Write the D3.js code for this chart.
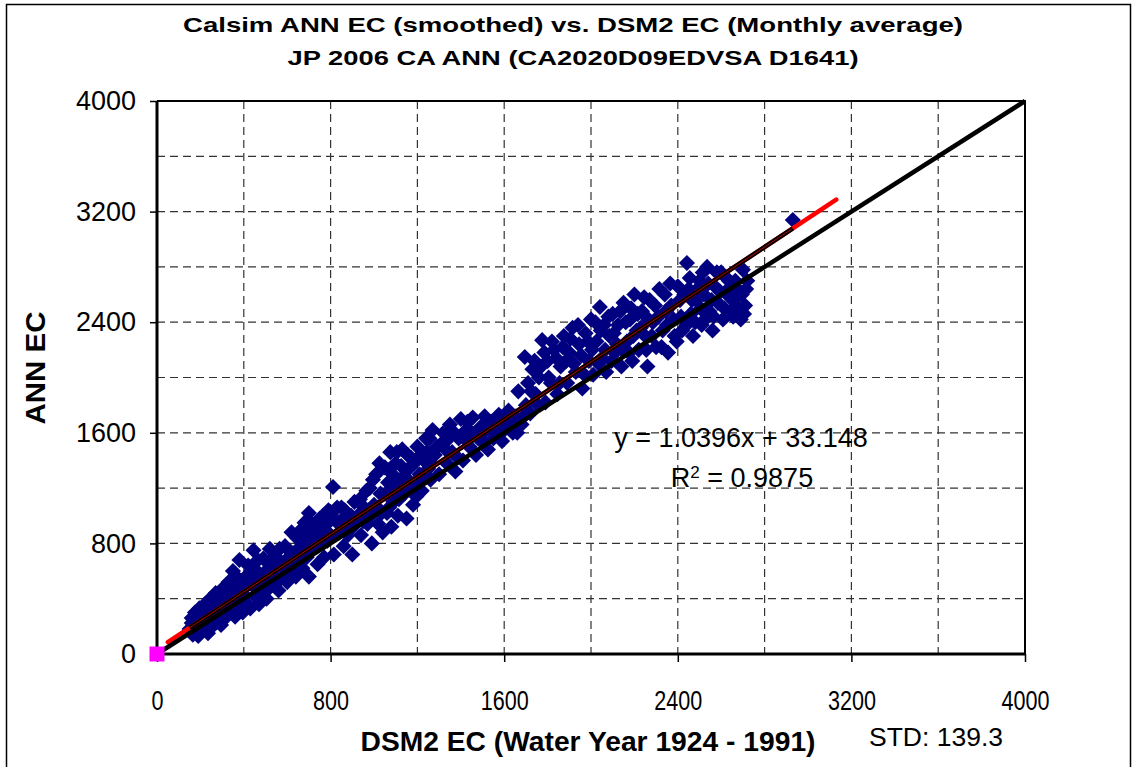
<!DOCTYPE html>
<html>
<head>
<meta charset="utf-8">
<script src="https://cdn.jsdelivr.net/npm/d3@7"></script>
<style>
  body { margin: 0; background: #fff; }
  svg text { font-family: "Liberation Sans", Arial, sans-serif; fill: #000; }
</style>
</head>
<body>
<svg id="chart" width="1132" height="767"></svg>
<script>
// chart values
const titleLines = [
  "Calsim ANN EC (smoothed) vs. DSM2 EC (Monthly average)",
  "JP 2006 CA ANN (CA2020D09EDVSA D1641)"
];
const xTitle = "DSM2 EC (Water Year 1924 - 1991)";
const yTitle = "ANN EC";
const stdLabel = "STD: 139.3";
const axisTicks = [0, 800, 1600, 2400, 3200, 4000];
const gridValues = [400, 800, 1200, 1600, 2000, 2400, 2800, 3200, 3600];

const trendSlope = 1.0396;
const trendIntercept = 33.148;
const trendR2 = 0.9875;
const trendExtent = [50, 3130];
const originPoint = [0, 0];

// [DSM2 EC, ANN EC] monthly pairs (estimated)
const monthlyPoints = [
  [160,224],[150,180],[160,260],[165,140],[175,300],[180,210],[190,130],[195,330],[200,250],[210,180],
  [215,290],[220,360],[225,220],[235,150],[240,310],[245,400],[250,260],[255,200],[265,340],[270,440],
  [275,230],[285,380],[290,300],[295,210],[300,470],[310,350],[315,260],[320,420],[330,520],[335,300],
  [340,380],[350,600],[355,450],[360,270],[370,340],[375,520],[380,680],[390,410],[395,300],[400,470],
  [410,560],[415,360],[420,640],[430,330],[440,500],[445,750],[450,420],[460,600],[470,360],[480,540],
  [490,690],[500,450],[505,400],[515,620],[520,760],[530,500],[540,560],[550,700],[560,460],[575,640],
  [590,780],[600,520],[610,600],[620,880],[630,700],[640,560],[650,760],[660,820],[670,620],[680,950],
  [690,700],[700,560],[700,1020],
  [185,260],[205,320],[230,270],[260,300],[280,330],[305,400],[325,360],[345,480],[365,560],[385,500],
  [405,420],[425,540],[435,600],[455,520],[465,680],[475,450],[495,580],[510,520],[525,680],[545,620],
  [555,520],[565,760],[580,560],[595,680],[615,740],[625,620],[645,840],[655,680],[665,900],[685,780],
  [695,860],
  [710,840],[720,760],[730,900],[740,650],[750,980],[760,820],[770,700],[780,940],[790,1040],[800,860],
  [811,1208],[815,720],[825,960],[840,880],[850,1060],[860,780],[875,980],[890,900],[900,720],[910,1100],
  [925,1000],[940,860],[955,1060],[970,940],[980,1200],[990,800],[1000,1080],[1010,1300],[1020,940],[1030,1160],
  [1040,880],[1050,1350],[1060,1020],[1065,1240],[1075,1460],[1080,920],[1090,1100],[1100,1380],[1110,1000],[1120,1260],
  [1130,1480],[1140,1160],[1150,980],[1160,1340],[1170,1420],[1180,1080],[1190,1240],[1200,1500],[1210,1300],[1220,1180],
  [1230,1400],[1240,1560],[1250,1340],[1260,1260],[1270,1620],[1280,1440],
  [715,940],[735,800],[755,880],[765,1000],[785,820],[795,960],[805,1000],[830,1060],[845,960],[865,1040],
  [880,860],[895,1000],[915,940],[935,1120],[950,960],[965,1180],[985,1000],[995,1260],[1015,1060],[1025,1380],
  [1035,1020],[1055,1160],[1070,1060],[1085,1300],[1095,1200],[1105,1460],[1115,1120],[1125,1360],[1145,1280],[1155,1440],
  [1175,1200],[1185,1380],[1195,1140],[1215,1440],[1225,1280],[1245,1460],[1255,1560],[1265,1380],[1290,1500],
  [1300,1300],[1310,1520],[1320,1600],[1335,1380],[1350,1660],[1360,1460],[1375,1320],[1390,1560],[1400,1700],[1410,1400],
  [1425,1620],[1440,1500],[1455,1710],[1470,1440],[1490,1640],[1500,1540],[1510,1720],[1525,1480],[1540,1680],[1560,1600],
  [1575,1730],[1590,1540],[1610,1660],[1620,1760],[1640,1600],[1650,1720],[1665,1900],[1680,1660],[1695,2148],[1700,1800],
  [1710,1960],
  [1330,1480],[1345,1560],[1370,1600],[1385,1420],[1415,1560],[1430,1680],[1450,1600],[1480,1560],[1515,1620],[1550,1560],
  [1570,1660],[1600,1620],[1630,1700],[1660,1600],[1690,1720],
  [1720,1740],[1730,2060],[1745,1880],[1760,2000],[1775,2270],[1790,1820],[1800,2120],[1815,1960],[1830,2200],[1845,1880],
  [1860,2080],[1875,2300],[1890,1960],[1900,2180],[1915,2360],[1930,2040],[1945,2240],[1960,1920],[1975,2320],[1990,2120],
  [2000,2420],[2010,2020],[2025,2260],[2041,2510],[2050,2140],[2060,2380],[2070,2040],[2085,2300],[2100,2460],[2110,2180],
  [2125,2380],[2140,2080],[2150,2540],[2165,2260],[2180,2420],[2190,2120],[2200,2600],[2210,2340],
  [1725,1900],[1740,2120],[1755,1800],[1770,2080],[1785,2180],[1805,2000],[1820,2260],[1840,2140],[1855,1960],[1870,2220],
  [1885,2120],[1905,2280],[1920,2100],[1940,2380],[1955,2160],[1970,2020],[1985,2260],[2005,2200],[2020,2400],[2035,2100],
  [2045,2340],[2065,2200],[2080,2440],[2095,2120],[2105,2320],[2120,2240],[2135,2480],[2145,2200],[2160,2400],[2175,2180],
  [2185,2500],[2195,2300],
  [2220,2200],[2235,2480],[2250,2300],[2260,2080],[2270,2560],[2285,2400],[2300,2220],[2315,2640],[2330,2340],[2345,2480],
  [2355,2180],[2365,2680],[2380,2420],[2395,2260],[2410,2560],[2420,2340],[2442,2828],[2450,2640],[2460,2460],[2470,2300],
  [2485,2560],[2500,2700],[2510,2380],[2520,2600],[2535,2800],[2545,2480],[2560,2340],[2570,2660],[2585,2540],[2600,2760],
  [2608,2420],[2620,2620],[2635,2700],[2645,2480],[2655,2440],[2660,2560],[2675,2640],[2690,2420],[2700,2780],[2710,2520],
  [2720,2700],[2930,3139],
  [2215,2460],[2230,2360],[2245,2580],[2255,2200],[2265,2420],[2280,2300],[2295,2520],[2310,2440],[2325,2220],[2340,2600],
  [2350,2380],[2370,2520],[2385,2300],[2400,2660],[2415,2440],[2430,2600],[2440,2380],[2455,2720],[2465,2560],[2480,2400],
  [2490,2640],[2505,2500],[2515,2760],[2525,2420],[2540,2680],[2555,2560],[2565,2440],[2580,2760],[2595,2620],[2615,2500],
  [2625,2720],[2640,2580],[2665,2700],[2680,2500],[2695,2600],[2705,2460],[2715,2640]
];

const svg = d3.select("#chart");

const xScale = d3.scaleLinear().domain([0, 4000]).range([157, 1025]);
const yScale = d3.scaleLinear().domain([0, 4000]).range([654, 101]);

// outer chart border
svg.append("rect")
  .attr("x", 6.5).attr("y", 4.5)
  .attr("width", 1124).attr("height", 800)
  .attr("fill", "none").attr("stroke", "#000").attr("stroke-width", 1.5);

// dashed grid
const grid = svg.append("g").attr("class", "grid")
  .attr("stroke", "#333").attr("stroke-width", 1.2).attr("stroke-dasharray", "8,5");
grid.selectAll("line.v").data(gridValues).enter().append("line")
  .attr("class", "v")
  .attr("x1", (d) => xScale(d)).attr("x2", (d) => xScale(d))
  .attr("y1", yScale(4000)).attr("y2", yScale(0));
grid.selectAll("line.h").data(gridValues).enter().append("line")
  .attr("class", "h")
  .attr("y1", (d) => yScale(d)).attr("y2", (d) => yScale(d))
  .attr("x1", xScale(0)).attr("x2", xScale(4000));

// plot area top/right border
svg.append("path")
  .attr("d", `M${xScale(0)},${yScale(4000)}H${xScale(4000)}V${yScale(0)}`)
  .attr("fill", "none").attr("stroke", "#000").attr("stroke-width", 2);

// diamonds
const diamond = d3.symbol().type(d3.symbolSquare).size(130);
svg.append("g").attr("class", "points")
  .selectAll("path").data(monthlyPoints).enter().append("path")
  .attr("d", diamond)
  .attr("transform", (d) => `translate(${xScale(d[0])},${yScale(d[1])}) rotate(45)`)
  .attr("fill", "#000080");

const trend = (v) => trendSlope * v + trendIntercept;
const line = d3.line().x((d) => xScale(d[0])).y((d) => yScale(d[1]));

// red fitted line over the full range
svg.append("path")
  .datum(trendExtent.map((v) => [v, trend(v)]))
  .attr("d", line)
  .attr("stroke", "#ff0000").attr("stroke-width", 4.5).attr("stroke-linecap", "round")
  .attr("fill", "none");

// black trend line over the data range
const dataExtent = d3.extent(monthlyPoints, (d) => d[0]);
svg.append("path")
  .datum(dataExtent.map((v) => [v, trend(v)]))
  .attr("d", line)
  .attr("stroke", "#000").attr("stroke-width", 4.5)
  .attr("fill", "none");
svg.append("path")
  .datum(dataExtent.map((v) => [v, trend(v)]))
  .attr("d", line)
  .attr("stroke", "#ff0000").attr("stroke-width", 0.7)
  .attr("fill", "none");

// 1:1 line
svg.append("path")
  .datum([[0, 0], [4000, 4000]])
  .attr("d", line)
  .attr("stroke", "#000").attr("stroke-width", 4.5)
  .attr("fill", "none");

// axes
const yAxis = d3.axisLeft(yScale).tickValues(axisTicks).tickFormat(d3.format("d"))
  .tickSize(7).tickPadding(14);
const yAxisGroup = svg.append("g").attr("transform", `translate(${xScale(0)},0)`).call(yAxis);
yAxisGroup.select(".domain").attr("stroke-width", 3).attr("d", `M0,${yScale(4000)}V${yScale(0)}`);
yAxisGroup.selectAll(".tick line").attr("stroke-width", 1.5);
yAxisGroup.selectAll("text")
  .attr("font-size", 27).attr("font-family", "Liberation Sans, Arial, sans-serif")
  .attr("textLength", (d) => String(d).length * 15).attr("lengthAdjust", "spacingAndGlyphs");

const xAxis = d3.axisBottom(xScale).tickValues(axisTicks).tickFormat(d3.format("d"))
  .tickSize(8).tickPadding(28);
const xAxisGroup = svg.append("g").attr("transform", `translate(0,${yScale(0)})`).call(xAxis);
xAxisGroup.select(".domain").attr("stroke-width", 3).attr("d", `M${xScale(0)},0H${xScale(4000)}`);
xAxisGroup.selectAll(".tick line").attr("stroke-width", 1.5);
xAxisGroup.selectAll("text")
  .attr("font-size", 28).attr("font-family", "Liberation Sans, Arial, sans-serif")
  .attr("textLength", (d) => String(d).length * 12).attr("lengthAdjust", "spacingAndGlyphs");

// origin marker
svg.append("rect")
  .attr("x", xScale(originPoint[0]) - 7.5).attr("y", yScale(originPoint[1]) - 7.5)
  .attr("width", 15).attr("height", 15)
  .attr("fill", "#ff00ff");

// titles
svg.selectAll("text.title").data(titleLines).enter().append("text")
  .attr("class", "title")
  .attr("x", 573).attr("y", (d, i) => 32 + i * 33)
  .attr("text-anchor", "middle")
  .attr("font-size", 21).attr("font-weight", "bold")
  .attr("textLength", (d, i) => i === 0 ? 780 : 571).attr("lengthAdjust", "spacingAndGlyphs")
  .text((d) => d);

svg.append("text")
  .attr("transform", `translate(45,368) rotate(-90)`)
  .attr("text-anchor", "middle")
  .attr("font-size", 28).attr("font-weight", "bold")
  .attr("textLength", 113).attr("lengthAdjust", "spacingAndGlyphs")
  .text(yTitle);

svg.append("text")
  .attr("x", 588).attr("y", 751)
  .attr("text-anchor", "middle")
  .attr("font-size", 28).attr("font-weight", "bold")
  .attr("textLength", 455).attr("lengthAdjust", "spacingAndGlyphs")
  .text(xTitle);

svg.append("text")
  .attr("x", 869).attr("y", 746)
  .attr("font-size", 25)
  .attr("textLength", 134).attr("lengthAdjust", "spacingAndGlyphs")
  .text(stdLabel);

// trend equation
const eq = svg.append("g").attr("font-size", 27).attr("text-anchor", "middle");
eq.append("text").attr("x", 741).attr("y", 447)
  .text(`y = ${trendSlope}x + ${trendIntercept}`);
const r2 = eq.append("text").attr("x", 742).attr("y", 487);
r2.append("tspan").text("R");
r2.append("tspan").attr("font-size", 17).attr("dy", -9).text("2");
r2.append("tspan").attr("dy", 9).text(` = ${trendR2}`);
</script>
</body>
</html>
